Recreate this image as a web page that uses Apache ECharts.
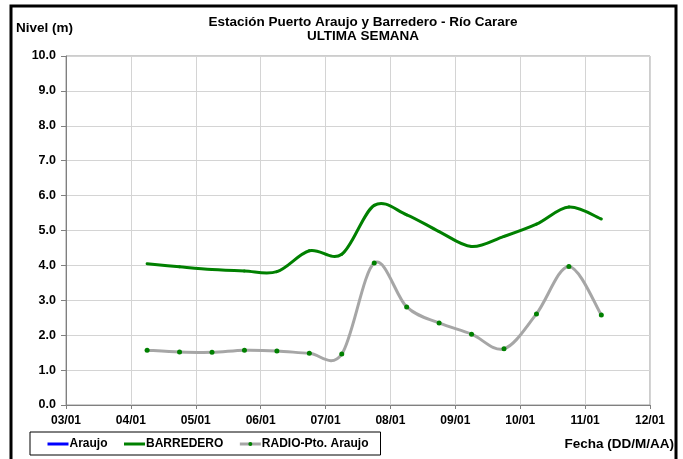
<!DOCTYPE html>
<html><head><meta charset="utf-8">
<script src="https://cdn.jsdelivr.net/npm/echarts@6/dist/echarts.min.js"></script>
<style>html,body{margin:0;padding:0;background:#fff}#c{width:683px;height:459px}</style>
</head><body><div id="c"></div>
<script>
// ---- data ----
const xTickLabels = ['03/01','04/01','05/01','06/01','07/01','08/01','09/01','10/01','11/01','12/01'];
const yTickMin = 0, yTickMax = 10, yTickStep = 1;
const sampleTimes = ['04/01 06:00','04/01 18:00','05/01 06:00','05/01 18:00','06/01 06:00','06/01 18:00',
  '07/01 06:00','07/01 18:00','08/01 06:00','08/01 18:00','09/01 06:00','09/01 18:00',
  '10/01 06:00','10/01 18:00','11/01 06:00'];
const araujo = [];
const barredero = [4.05,3.96,3.88,3.84,3.82,4.42,4.32,5.72,5.45,4.97,4.54,4.83,5.18,5.67,5.33];
const radio = [1.57,1.52,1.51,1.57,1.55,1.48,1.46,4.07,2.81,2.35,2.03,1.61,2.61,3.97,2.58];
const seriesNames = ['Araujo','BARREDERO','RADIO-Pto. Araujo'];
const seriesColors = ['#0000ff','#008000','#a6a6a6'];
const markerColor = '#008000';

// ---- helpers ----
const firstDay = parseInt(xTickLabels[0], 10);
function toDay(s){ const [d, t] = s.split(' '); const dd = parseInt(d.split('/')[0],10); const hh = parseInt(t.split(':')[0],10); return dd + hh/24; }
const xs = sampleTimes.map(toDay);
const pair = arr => arr.map((v,i) => [xs[i], v]);

// smooth (Excel-like Catmull-Rom) curve drawn through the axis scales via api.coord
function curveRender(values, color){
  const dataPts = pair(values);
  return function(params, api){
    if (params.dataIndex !== 0) return null;
    const P = dataPts.map(p => api.coord(p));
    const kids = [];
    const t = 1/6;
    for (let i = 0; i < P.length - 1; i++){
      const p0 = P[i-1] || P[i], p1 = P[i], p2 = P[i+1], p3 = P[i+2] || P[i+1];
      kids.push({
        type: 'bezierCurve',
        shape: { x1: p1[0], y1: p1[1], x2: p2[0], y2: p2[1],
          cpx1: p1[0] + (p2[0]-p0[0])*t, cpy1: p1[1] + (p2[1]-p0[1])*t,
          cpx2: p2[0] - (p3[0]-p1[0])*t, cpy2: p2[1] - (p3[1]-p1[1])*t },
        style: { stroke: color, lineWidth: 3, fill: null, lineCap: 'round', lineJoin: 'round' }
      });
    }
    return { type: 'group', children: kids };
  };
}

const FONT = 'Liberation Sans, Arial, sans-serif';
const txt = (size) => ({ fontFamily: FONT, fontWeight: 'bold', fontSize: size, color: '#000' });
const chart = echarts.init(document.getElementById('c'), null, {renderer:'canvas'});
chart.setOption({
  backgroundColor: '#fff',
  animation: false,
  title: {
    text: 'Estación Puerto Araujo y Barredero - Río Carare\nULTIMA SEMANA',
    left: 358, top: 10, textAlign: 'center',
    textStyle: Object.assign(txt(13.5), { lineHeight: 14 })
  },
  grid: { left: 66, right: 33, top: 56, bottom: 54, show: true, borderColor: '#9a9a9a', borderWidth: 1 },
  legend: {
    data: [
      { name: seriesNames[0], itemStyle: { opacity: 0 }, lineStyle: { color: seriesColors[0], width: 3, opacity: 1 } },
      { name: seriesNames[1], itemStyle: { opacity: 0 }, lineStyle: { color: seriesColors[1], width: 3, opacity: 1 } },
      { name: seriesNames[2], itemStyle: { color: markerColor, opacity: 1 }, lineStyle: { color: seriesColors[2], width: 3, opacity: 1 } }
    ],
    left: 30, top: 432, orient: 'horizontal',
    itemWidth: 21, itemHeight: 5, itemGap: 15,
    padding: [6, 12, 5, 16],
    borderColor: '#000', borderWidth: 1,
    textStyle: Object.assign(txt(12), { padding: [0,0,0,-4] })
  },
  xAxis: {
    type: 'value', min: firstDay, max: firstDay + xTickLabels.length - 1, interval: 1,
    axisLine: { lineStyle: { color: '#808080', width: 1 } },
    axisTick: { show: true, inside: false, length: 4, lineStyle: { color: '#808080' } },
    axisLabel: Object.assign({ formatter: v => xTickLabels[Math.round(v - firstDay)] || '', margin: 10 }, txt(12)),
    splitLine: { show: true, lineStyle: { color: '#d4d4d4', width: 1 } }
  },
  yAxis: {
    type: 'value', min: yTickMin, max: yTickMax, interval: yTickStep,
    axisLine: { show: true, lineStyle: { color: '#808080', width: 1 } },
    axisTick: { show: true, inside: false, length: 5, lineStyle: { color: '#808080' } },
    axisLabel: Object.assign({ formatter: v => v.toFixed(1), margin: 10 }, txt(12.5)),
    splitLine: { show: true, lineStyle: { color: '#d4d4d4', width: 1 } }
  },
  series: [
    { name: seriesNames[0], type: 'line', data: pair(araujo), showSymbol: false,
      lineStyle: { color: seriesColors[0], width: 3 }, itemStyle: { color: seriesColors[0] } },
    { name: seriesNames[1], type: 'line', data: pair(barredero), showSymbol: false, z: 1,
      lineStyle: { color: seriesColors[1], width: 3, opacity: 0 }, itemStyle: { color: seriesColors[1] } },
    { name: seriesNames[2], type: 'line', data: pair(radio), symbol: 'circle', symbolSize: 5, z: 5,
      lineStyle: { color: seriesColors[2], width: 3, opacity: 0 }, itemStyle: { color: markerColor } },
    { name: 'curve-barredero', type: 'custom', data: pair(barredero), z: 2,
      renderItem: curveRender(barredero, seriesColors[1]) },
    { name: 'curve-radio', type: 'custom', data: pair(radio), z: 3,
      renderItem: curveRender(radio, seriesColors[2]) }
  ],
  graphic: [
    { type: 'rect', shape: { x: 11, y: 6, width: 665, height: 470 }, style: { fill: null, stroke: '#000', lineWidth: 3 }, silent: true },
    { type: 'text', left: 16, top: 21, style: { text: 'Nivel (m)', font: 'bold 13.5px ' + FONT, fill: '#000' } },
    { type: 'text', right: 9, top: 437, style: { text: 'Fecha (DD/M/AA)', font: 'bold 13.5px ' + FONT, fill: '#000' } }
  ]
});
</script></body></html>
